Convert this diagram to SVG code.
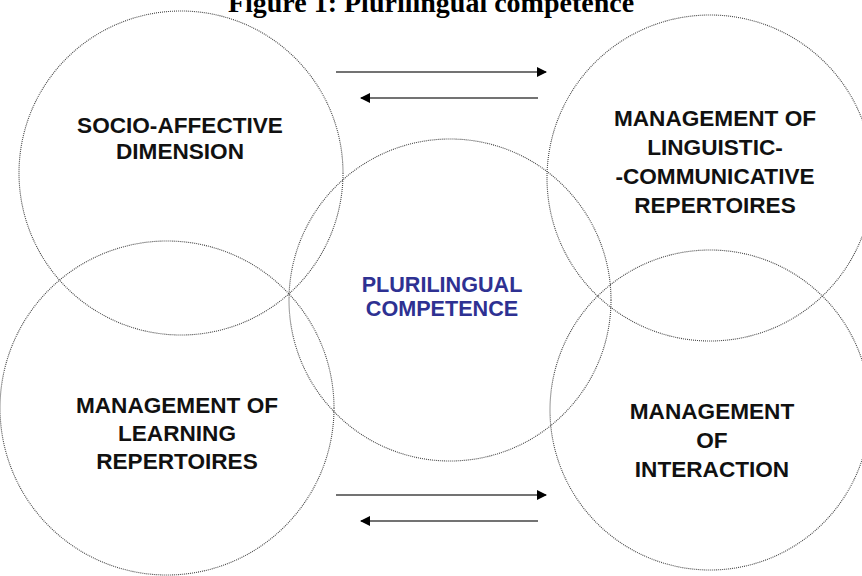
<svg xmlns="http://www.w3.org/2000/svg" width="862" height="576" viewBox="0 0 862 576">
<defs>
<style>
.c{fill:none;stroke:#444;stroke-width:1.1;stroke-dasharray:1 1}
.t{font-family:"Liberation Sans",Arial,sans-serif;font-weight:bold;font-size:22.6px;fill:#111;text-anchor:middle}
.b{fill:#2e3192;font-size:21.6px}
.a{stroke:#444;stroke-width:1.5;fill:none}
.ttl{font-family:"Liberation Serif","Times New Roman",serif;font-weight:bold;font-size:28px;fill:#000;text-anchor:middle}
</style>
<marker id="ah" viewBox="0 0 10 10" refX="9" refY="5" markerWidth="10" markerHeight="10" markerUnits="userSpaceOnUse" orient="auto">
<path d="M0,0 L10,5 L0,10 z" fill="#000"/>
</marker>
</defs>
<rect width="862" height="576" fill="#fff"/>
<text class="ttl" x="431" y="12">Figure 1: Plurilingual competence</text>
<g id="socio">
<circle class="c" cx="181" cy="173" r="162"/>
<text class="t" x="180" y="133">SOCIO-AFFECTIVE</text>
<text class="t" x="180" y="159">DIMENSION</text>
</g>
<g id="linguistic">
<circle class="c" cx="710" cy="178" r="163"/>
<text class="t" x="715" y="126">MANAGEMENT OF</text>
<text class="t" x="715" y="155">LINGUISTIC-</text>
<text class="t" x="715" y="184">-COMMUNICATIVE</text>
<text class="t" x="715" y="213">REPERTOIRES</text>
</g>
<g id="learning">
<circle class="c" cx="167" cy="408" r="167"/>
<text class="t" x="177" y="413">MANAGEMENT OF</text>
<text class="t" x="177" y="441">LEARNING</text>
<text class="t" x="177" y="469">REPERTOIRES</text>
</g>
<g id="interaction">
<circle class="c" cx="710" cy="410" r="160"/>
<text class="t" x="712" y="419">MANAGEMENT</text>
<text class="t" x="712" y="448">OF</text>
<text class="t" x="712" y="477">INTERACTION</text>
</g>
<g id="plurilingual">
<circle class="c" cx="450" cy="300" r="161"/>
<text class="t b" x="442" y="292">PLURILINGUAL</text>
<text class="t b" x="442" y="316">COMPETENCE</text>
</g>
<g id="connectors">
<line class="a" x1="336" y1="72" x2="546" y2="72" marker-end="url(#ah)"/>
<line class="a" x1="538" y1="98" x2="361" y2="98" marker-end="url(#ah)"/>
<line class="a" x1="336" y1="495" x2="546" y2="495" marker-end="url(#ah)"/>
<line class="a" x1="538" y1="521" x2="361" y2="521" marker-end="url(#ah)"/>
</g>
</svg>
